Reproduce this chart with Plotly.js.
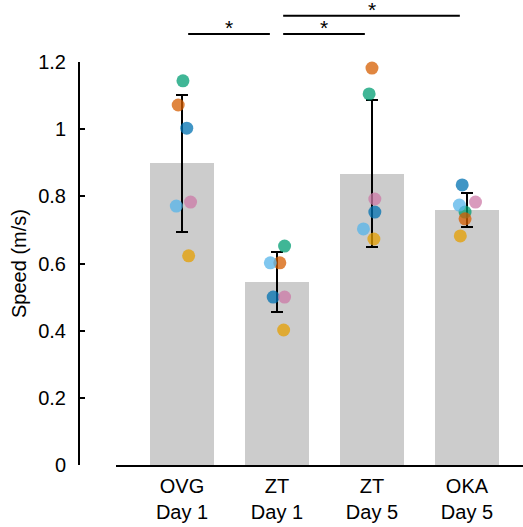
<!DOCTYPE html>
<html>
<head>
<meta charset="utf-8">
<script src="https://cdn.plot.ly/plotly-3.0.1.min.js"></script>
<style>html,body{margin:0;padding:0;background:#fff;}#chart{width:523px;height:527px;}</style>
</head>
<body>
<div id="chart"></div>
<script>
// ---- data ----
var categories = ["OVG<br>Day 1", "ZT<br>Day 1", "ZT<br>Day 5", "OKA<br>Day 5"];
var means = [0.899, 0.545, 0.867, 0.759];
var sds = [0.204, 0.090, 0.219, 0.050];

var subjects = ["teal", "orange", "blue", "lightblue", "pink", "yellow"];
var subjectColors = ["#009E73", "#D55E00", "#0072B2", "#56B4E9", "#CC79A7", "#E69F00"];
// values per subject, per category (OVG D1, ZT D1, ZT D5, OKA D5)
var tealVals      = [1.144, 0.652, 1.105, 0.753];
var orangeVals    = [1.072, 0.602, 1.182, 0.733];
var blueVals      = [1.003, 0.500, 0.753, 0.834];
var lightblueVals = [0.771, 0.602, 0.703, 0.774];
var pinkVals      = [0.783, 0.500, 0.792, 0.783];
var yellowVals    = [0.623, 0.402, 0.673, 0.682];
// horizontal jitter of each point within its category
var tealJit      = [0.01, 0.08, -0.03, -0.02];
var orangeJit    = [-0.04, 0.03, 0.00, -0.02];
var blueJit      = [0.05, -0.04, 0.03, -0.05];
var lightblueJit = [-0.06, -0.07, -0.09, -0.08];
var pinkJit      = [0.09, 0.08, 0.03, 0.09];
var yellowJit    = [0.07, 0.07, 0.02, -0.07];

var subjectVals = [tealVals, orangeVals, blueVals, lightblueVals, pinkVals, yellowVals];
var subjectJit = [tealJit, orangeJit, blueJit, lightblueJit, pinkJit, yellowJit];

// significance comparisons [from category, to category]
var comparisons = [[0, 1], [1, 2], [1, 3]];
var compLabels = ["*", "*", "*"];

// ---- build ----
var idx = categories.map(function (c, i) { return i; });
var traces = [{
  type: "bar", x: idx, y: means, width: 0.67,
  marker: { color: "#cccccc", line: { width: 0 } },
  error_y: { type: "data", array: sds, visible: true, color: "#000", thickness: 2, width: 6 },
  hoverinfo: "none", showlegend: false
}];
subjects.forEach(function (s, k) {
  traces.push({
    type: "scatter", mode: "markers", name: s,
    x: idx.map(function (i) { return i + subjectJit[k][i]; }),
    y: subjectVals[k],
    marker: { size: 13, color: subjectColors[k], opacity: 0.75, line: { width: 0 } },
    showlegend: false, hoverinfo: "none", cliponaxis: false
  });
});

var levelY = [1.0695, 1.0695, 1.115];
var shapes = [], annotations = [];
comparisons.forEach(function (c, i) {
  var y = levelY[i];
  shapes.push({ type: "line", xref: "x", yref: "paper", x0: c[0] + 0.065, x1: c[1] - 0.075, y0: y, y1: y,
    line: { color: "#000", width: 2 } });
  annotations.push({ xref: "x", yref: "paper", x: (c[0] + c[1]) / 2 + (i === 1 ? -0.005 : 0), y: y,
    yanchor: "bottom", yshift: -6, borderpad: 0,
    text: compLabels[i], showarrow: false, font: { size: 21, color: "#000", family: "Liberation Sans, Arial, sans-serif" } });
});

var font = { family: "Liberation Sans, Arial, Helvetica, sans-serif", size: 20, color: "#000" };
var layout = {
  width: 523, height: 527,
  margin: { l: 79, r: 0, t: 62, b: 62, pad: 0 },
  paper_bgcolor: "#fff", plot_bgcolor: "#fff",
  font: font,
  showlegend: false,
  bargap: 0,
  xaxis: {
    domain: [0.0833, 1], anchor: "y",
    range: [-0.695, 3.59],
    tickmode: "array", tickvals: idx, ticktext: categories,
    showline: true, linecolor: "#000", linewidth: 2,
    ticks: "", showgrid: false, zeroline: false,
    tickfont: font, ticklabelstandoff: 2
  },
  yaxis: {
    anchor: "free", position: 0,
    range: [0, 1.2],
    tickmode: "array", tickvals: [0, 0.2, 0.4, 0.6, 0.8, 1, 1.2],
    ticktext: ["0", "0.2", "0.4", "0.6", "0.8", "1", "1.2"],
    showline: true, linecolor: "#000", linewidth: 2,
    ticks: "inside", ticklen: 5, tickwidth: 2, tickcolor: "#000",
    showgrid: false, zeroline: false,
    tickfont: font, ticklabelstandoff: 8,
    title: { text: "Speed (m/s)", font: font, standoff: 5 }
  },
  shapes: shapes,
  annotations: annotations
};
Plotly.newPlot("chart", traces, layout, { displayModeBar: false, staticPlot: true });
</script>
</body>
</html>
